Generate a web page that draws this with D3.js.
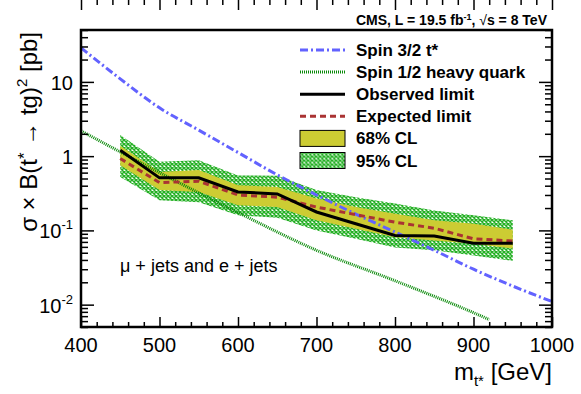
<!DOCTYPE html>
<html>
<head>
<meta charset="utf-8">
<script src="https://cdn.jsdelivr.net/npm/d3@7"></script>
<style>
  body { margin: 0; background: #fff; }
  text { font-family: "Liberation Sans", Arial, Helvetica, sans-serif; }
</style>
</head>
<body>
<div id="chart"></div>
<script>
// limits, 11 mass points
var mass = [450, 500, 550, 600, 650, 700, 750, 800, 850, 900, 950];
var observed = [1.2, 0.51, 0.51, 0.33, 0.31, 0.177, 0.123, 0.0856, 0.084, 0.067, 0.067];
var expected = [0.93, 0.44, 0.46, 0.30, 0.28, 0.206, 0.163, 0.129, 0.107, 0.077, 0.072];
var up68 = [1.38, 0.61, 0.65, 0.405, 0.385, 0.268, 0.206, 0.168, 0.137, 0.123, 0.102];
var lo68 = [0.755, 0.35, 0.33, 0.218, 0.206, 0.137, 0.105, 0.081, 0.073, 0.066, 0.057];
var up95 = [1.92, 0.84, 0.88, 0.55, 0.545, 0.35, 0.28, 0.23, 0.186, 0.16, 0.137];
var lo95 = [0.525, 0.254, 0.24, 0.16, 0.148, 0.10, 0.077, 0.059, 0.054, 0.046, 0.039];

// theory curves
var spin32Mass = [400, 450, 500, 550, 600, 650, 700, 750, 800, 850, 900, 950, 1000];
var spin32 = [28.8, 11.0, 4.47, 2.24, 1.12, 0.56, 0.30, 0.166, 0.095, 0.054, 0.030, 0.0178, 0.011];
var spin12Mass = [400, 500, 600, 700, 800, 900, 920];
var spin12 = [2.19, 0.60, 0.174, 0.054, 0.021, 0.0078, 0.0063];

// ticks
var xMajor = [400, 500, 600, 700, 800, 900, 1000];
var yMajor = [0.01, 0.1, 1, 10];
var yLabels = [["10", "-2"], ["10", "-1"], ["1", ""], ["10", ""]];

var width = 581, height = 394;
var margin = {top: 30, right: 29, bottom: 67, left: 81};

var svg = d3.select("#chart").append("svg")
    .attr("width", width)
    .attr("height", height);

var x = d3.scaleLinear().domain([400, 1000]).range([margin.left, width - margin.right]);
var y = d3.scaleLog().domain([0.005, 50]).range([height - margin.bottom, margin.top]);

// crosshatch for 95% band
var defs = svg.append("defs");
var pat = defs.append("pattern")
    .attr("id", "hatch")
    .attr("patternUnits", "userSpaceOnUse")
    .attr("width", 4).attr("height", 4);
pat.append("rect").attr("width", 4).attr("height", 4).attr("fill", "#fff");
pat.append("path").attr("d", "M0,0L4,4M4,0L0,4")
    .attr("stroke", "#25b025").attr("stroke-width", 1.5);

defs.append("clipPath").attr("id", "clip")
  .append("rect")
    .attr("x", margin.left).attr("y", margin.top)
    .attr("width", width - margin.left - margin.right)
    .attr("height", height - margin.top - margin.bottom);

var plot = svg.append("g").attr("clip-path", "url(#clip)");

var area = (lo, hi) => d3.area()
    .x((d, i) => x(mass[i]))
    .y0((d, i) => y(lo[i]))
    .y1((d, i) => y(hi[i]))(mass);

plot.append("path").attr("d", area(lo95, up95)).attr("fill", "url(#hatch)");
plot.append("path").attr("d", area(lo68, up68)).attr("fill", "#cccc33");

var line = (xs, ys) => d3.line()
    .x((d, i) => x(xs[i]))
    .y((d, i) => y(ys[i]))(xs);
var smooth = (xs, ys) => d3.line()
    .curve(d3.curveMonotoneX)
    .x((d, i) => x(xs[i]))
    .y((d, i) => y(ys[i]))(xs);

plot.append("path").attr("d", smooth(spin12Mass, spin12))
    .attr("fill", "none").attr("stroke", "#0a8a0a")
    .attr("stroke-width", 3).attr("stroke-dasharray", "1,1");
plot.append("path").attr("d", smooth(spin32Mass, spin32))
    .attr("fill", "none").attr("stroke", "#6262ff")
    .attr("stroke-width", 3).attr("stroke-dasharray", "8,3,2,3");
plot.append("path").attr("d", line(mass, expected))
    .attr("fill", "none").attr("stroke", "#aa3333")
    .attr("stroke-width", 3).attr("stroke-dasharray", "6,4");
plot.append("path").attr("d", line(mass, observed))
    .attr("fill", "none").attr("stroke", "#000")
    .attr("stroke-width", 3);

// axes: ticks point inwards, on all four sides
var xMinor = d3.range(400, 1001, 20).filter(v => v % 100 != 0);
var yMinor = [];
[0.001, 0.01, 0.1, 1, 10].forEach(p => d3.range(2, 10).forEach(k => {
  var v = k * p;
  if (v >= 0.005 && v <= 50) yMinor.push(v);
}));

function ticks(axis, vals, size, tr) {
  var g = svg.append("g").attr("transform", tr)
    .call(axis.tickValues(vals).tickSize(-size).tickFormat(""));
  g.select(".domain").remove();
  g.selectAll("line").attr("stroke", "#000").attr("stroke-width", 1.5);
}
var bot = `translate(0,${height - margin.bottom})`, top = `translate(0,${margin.top})`;
var lft = `translate(${margin.left},0)`, rgt = `translate(${width - margin.right},0)`;
ticks(d3.axisBottom(x), xMajor, 10, bot);
ticks(d3.axisBottom(x), xMinor, 5, bot);
ticks(d3.axisTop(x), xMajor, 10, top);
ticks(d3.axisTop(x), xMinor, 5, top);
ticks(d3.axisLeft(y), yMajor, 13, lft);
ticks(d3.axisLeft(y), yMinor, 7, lft);
ticks(d3.axisRight(y), yMajor, 13, rgt);
ticks(d3.axisRight(y), yMinor, 7, rgt);

svg.append("rect")
    .attr("x", margin.left).attr("y", margin.top)
    .attr("width", width - margin.left - margin.right)
    .attr("height", height - margin.top - margin.bottom)
    .attr("fill", "none").attr("stroke", "#000").attr("stroke-width", 2.5);

// tick labels
svg.append("g").selectAll("text").data(xMajor).join("text")
    .attr("x", d => x(d)).attr("y", 352)
    .attr("text-anchor", "middle").attr("font-size", 20)
    .text(d => d);

var yl = svg.append("g").selectAll("text").data(yMajor).join("text")
    .attr("x", 73).attr("y", d => y(d) + 8)
    .attr("text-anchor", "end").attr("font-size", 20);
yl.append("tspan").text((d, i) => yLabels[i][0]);
yl.append("tspan").attr("font-size", 13).attr("dy", -9)
    .text((d, i) => yLabels[i][1]);

// axis titles
var xt = svg.append("text").attr("x", width - margin.right).attr("y", 380)
    .attr("text-anchor", "end").attr("font-size", 24);
xt.append("tspan").text("m");
xt.append("tspan").attr("font-size", 15).attr("dy", 6).text("t*");
xt.append("tspan").attr("dy", -6).text(" [GeV]");

var yt = svg.append("text")
    .attr("transform", `translate(37,${margin.top + 2}) rotate(-90)`)
    .attr("text-anchor", "end").attr("font-size", 24);
yt.append("tspan").text("σ × B(t");
yt.append("tspan").attr("font-size", 17).attr("dy", -7).text("*");
yt.append("tspan").attr("dy", 7).text(" → tg)");
yt.append("tspan").attr("font-size", 15).attr("dy", -10).text("2");
yt.append("tspan").attr("dy", 10).text(" [pb]");

// header
var hd = svg.append("text").attr("x", 547).attr("y", 25)
    .attr("text-anchor", "end").attr("font-size", 14).attr("font-weight", "bold");
hd.append("tspan").text("CMS, L = 19.5 fb");
hd.append("tspan").attr("font-size", 9).attr("dy", -5).text("-1");
hd.append("tspan").attr("dy", 5).text(", ");
hd.append("tspan").attr("font-weight", "normal").text("√");
hd.append("tspan").text("s = 8 TeV");

svg.append("text").attr("x", 120).attr("y", 272)
    .attr("font-size", 18).text("μ + jets and e + jets");

// legend
var legend = [
  {label: "Spin 3/2 t*", type: "line", color: "#6262ff", dash: "8,3,2,3"},
  {label: "Spin 1/2 heavy quark", type: "line", color: "#0a8a0a", dash: "1,1"},
  {label: "Observed limit", type: "line", color: "#000", dash: null},
  {label: "Expected limit", type: "line", color: "#aa3333", dash: "6,4"},
  {label: "68% CL", type: "box", fill: "#cccc33"},
  {label: "95% CL", type: "box", fill: "url(#hatch)"}
];
var lg = svg.append("g").selectAll("g").data(legend).join("g")
    .attr("transform", (d, i) => `translate(300,${50 + i * 22.1})`);
lg.filter(d => d.type == "line").append("line")
    .attr("x1", 0).attr("x2", 45)
    .attr("stroke", d => d.color).attr("stroke-width", 3)
    .attr("stroke-dasharray", d => d.dash);
lg.filter(d => d.type == "box").append("rect")
    .attr("x", 0).attr("y", -8).attr("width", 45).attr("height", 16)
    .attr("fill", d => d.fill).attr("stroke", "#000").attr("stroke-width", 1);
lg.append("text").attr("x", 56).attr("y", 6)
    .attr("font-size", 17).attr("font-weight", "bold")
    .text(d => d.label);
</script>
</body>
</html>
